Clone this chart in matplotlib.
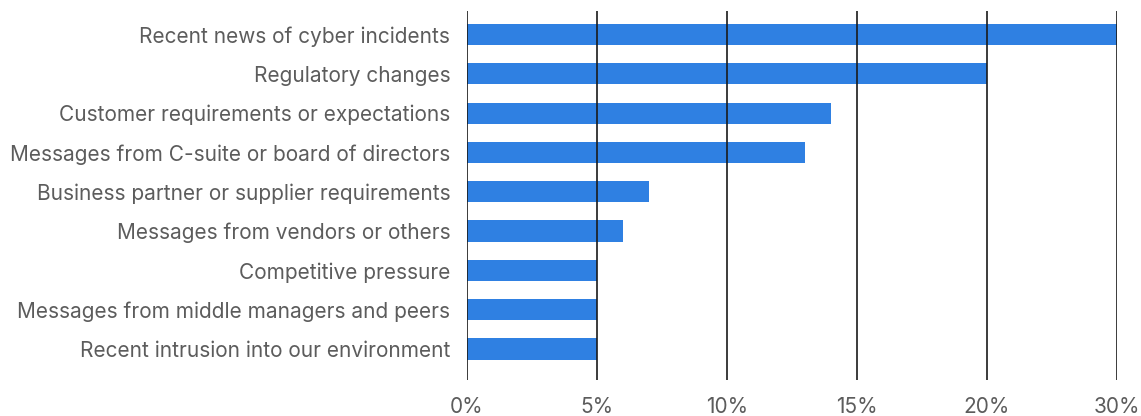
import matplotlib
matplotlib.use("Agg")
import matplotlib.pyplot as plt

categories = [
    "Recent news of cyber incidents",
    "Regulatory changes",
    "Customer requirements or expectations",
    "Messages from C-suite or board of directors",
    "Business partner or supplier requirements",
    "Messages from vendors or others",
    "Competitive pressure",
    "Messages from middle managers and peers",
    "Recent intrusion into our environment",
]
values = [30, 20, 14, 13, 7, 6, 5, 5, 5]
# the source axis stops at 25 but labels its last tick "30%"
ticks = [0, 5, 10, 15, 20, 25]
tick_labels = ["0%", "5%", "10%", "15%", "20%", "30%"]

plt.rcParams['font.family'] = ['Inter', 'DejaVu Sans']

fig = plt.figure(figsize=(11.41, 4.16), dpi=100)
ax = fig.add_axes([467 / 1141, 1 - 380 / 416, 650 / 1141, 369 / 416])

y = list(range(len(categories)))
ax.barh(y, values, height=0.54, color='#2f80e2', zorder=2)

for t in ticks:
    ax.axvline(t, color='#1a1a1a', linewidth=1.2, zorder=3)

ax.set_xlim(0, 25)
ax.set_ylim(8.79, -0.6)
ax.set_yticks(y)
ax.set_yticklabels(categories)
ax.set_xticks(ticks)
ax.set_xticklabels(tick_labels)

for s in ax.spines.values():
    s.set_visible(False)
ax.tick_params(axis='both', length=0, labelsize=15, labelcolor='#5c5c5c')
ax.tick_params(axis='y', pad=12)
ax.tick_params(axis='x', pad=12)

fig.savefig("out.png", dpi=100)
